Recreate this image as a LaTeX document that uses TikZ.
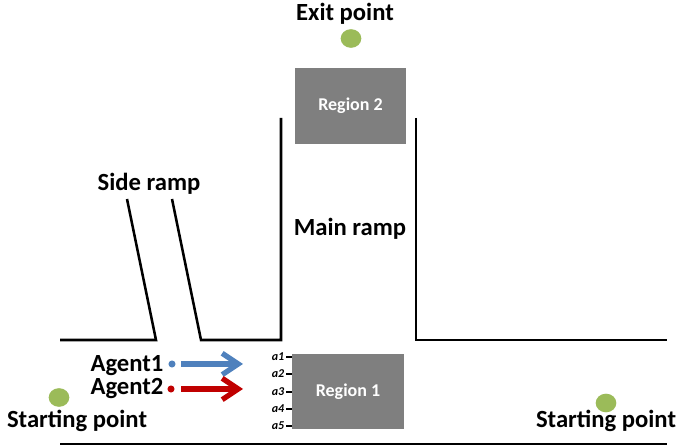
\documentclass[tikz,border=0pt]{standalone}
\usepackage{fontspec}
\setmainfont{Carlito}
\usetikzlibrary{arrows.meta,shapes.geometric}
\definecolor{agblue}{HTML}{4F81BD}
\definecolor{agred}{HTML}{C00000}
\definecolor{dotgreen}{HTML}{9BBB59}
\definecolor{regiongray}{HTML}{7F7F7F}
\tikzset{
  wall/.style={line width=1.9pt, line cap=butt},
  lbl/.style={font=\fontsize{18.5}{20}\selectfont\bfseries, inner sep=0pt},
  regionbox/.style={fill=regiongray, draw=none, text=white, font=\fontsize{13.5}{15}\selectfont\bfseries},
  gdot/.style={ellipse, fill=dotgreen, minimum width=15.5pt, minimum height=14pt, inner sep=0pt},
  adot/.style={circle, inner sep=0pt, minimum size=5.3pt},
  tick/.style={line width=1.5pt},
  alabel/.style={font=\fontsize{9}{10}\selectfont\bfseries\itshape, inner sep=0pt, anchor=east},
  agarrow/.style={line width=4pt, -{Straight Barb[length=12pt, width=16pt, line width=4pt]}}
}
\begin{document}
\begin{tikzpicture}[x=0.75pt, y=-0.75pt]
\useasboundingbox (0,0) rectangle (679,448);
% walls
\coordinate (l1) at (60,340);
\coordinate (l2) at (156,340);
\coordinate (s1) at (127,199);
\coordinate (s2) at (172,199);
\coordinate (l3) at (201,340);
\coordinate (l4) at (281,340);
\coordinate (m1) at (281,118);
\coordinate (m2) at (416,118);
\coordinate (r1) at (416,340);
\coordinate (r2) at (667,340);
\coordinate (b1) at (60,444);
\coordinate (b2) at (667,444);
\draw[wall] (l1) -- (l2) -- (s1);
\draw[wall] (s2) -- (l3) -- (l4) -- (m1);
\draw[wall] (m2) -- (r1) -- (r2);
\draw[wall] (b1) -- (b2);
% regions
\node[regionbox, minimum width=83pt, minimum height=57pt] (reg2) at (350.5,106) {Region 2};
\node[regionbox, minimum width=84pt, minimum height=56pt] (reg1) at (348,391.5) {Region 1};
% ticks and labels
\foreach \i/\y in {1/357,2/374,3/392,4/409,5/426}{
  \coordinate (t\i a) at (286,\y);
  \coordinate (t\i b) at (292,\y);
  \draw[tick] (t\i a) -- (t\i b);
  \node[alabel] (al\i) at (284.5,\y) {a\i};
}
% green points
\node[gdot] (exitdot) at (351,38.5) {};
\node[gdot] (startL) at (59,397.5) {};
\node[gdot] (startR) at (606,403) {};
% labels
\node[lbl] (exit) at (345,14) {Exit point};
\node[lbl] (side) at (149,184) {Side ramp};
\node[lbl] (main) at (350,229) {Main ramp};
\node[lbl] (ag1) at (127,366) {Agent1};
\node[lbl] (ag2) at (127,389) {Agent2};
\node[lbl] (stL) at (77,421) {Starting point};
\node[lbl] (stR) at (606,421) {Starting point};
% agents
\node[adot, fill=agblue] (d1) at (172,364) {};
\node[adot, fill=agred] (d2) at (171,389) {};
\coordinate (a1s) at (181,364);
\coordinate (a1e) at (243,364);
\coordinate (a2s) at (181,389);
\coordinate (a2e) at (243,389);
\draw[agarrow, agblue] (a1s) -- (a1e);
\draw[agarrow, agred] (a2s) -- (a2e);
\end{tikzpicture}
\end{document}
